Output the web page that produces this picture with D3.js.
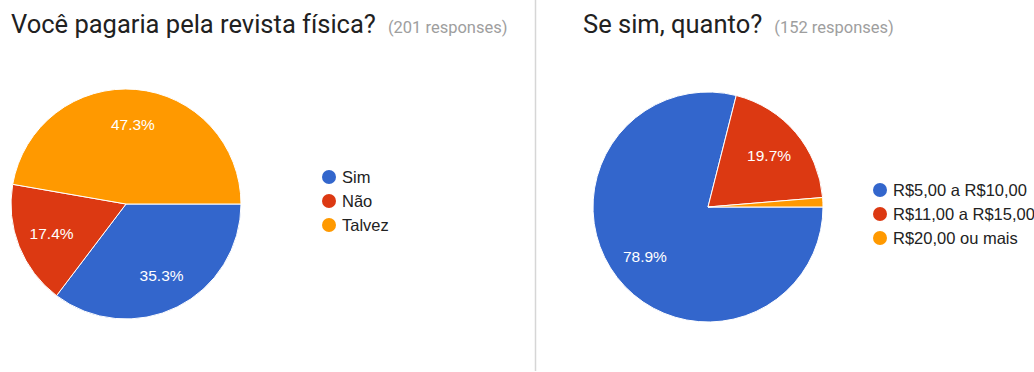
<!DOCTYPE html>
<meta charset="utf-8">
<title>Forms pies</title>
<script src="https://d3js.org/d3.v7.min.js"></script>
<style>
  body { margin: 0; background: #fff; }
</style>
<body>
</body>
<script>
  const width = 1034, height = 372;

  // data
  const labels1 = ["Sim", "Não", "Talvez"];
  const counts1 = [71, 35, 95];          // 201 responses
  const labels2 = ["R$5,00 a R$10,00", "R$11,00 a R$15,00", "R$20,00 ou mais"];
  const counts2 = [120, 30, 2];          // 152 responses
  const titles = ["Você pagaria pela revista física?", "Se sim, quanto?"];
  const totals = [201, 152];

  const colors = ["#3366cc", "#dc3912", "#ff9900"];

  const svg = d3.select("body").append("svg")
      .attr("width", width).attr("height", height);

  // divider between the two cards
  svg.append("line")
      .attr("x1", 535.5).attr("x2", 535.5)
      .attr("y1", 0).attr("y2", 371)
      .attr("stroke", "#d6d6d6").attr("stroke-width", 1.5);

  const panels = [
    { labels: labels1, counts: counts1, title: titles[0], total: totals[0],
      tx: 11, cx: 126, cy: 204, lx: 329, ly: 177 },
    { labels: labels2, counts: counts2, title: titles[1], total: totals[1],
      tx: 583, cx: 708, cy: 207, lx: 880, ly: 190 }
  ];

  const r = 115;
  const pie = d3.pie().sort(null)
      .startAngle(Math.PI / 2).endAngle(Math.PI / 2 + 2 * Math.PI);
  const arc = d3.arc().innerRadius(0).outerRadius(r);
  const labelArc = d3.arc().innerRadius(80).outerRadius(80);

  panels.forEach(p => {
    // title
    const t = svg.append("text")
        .attr("x", p.tx).attr("y", 33)
        .style("font-family", "Roboto, sans-serif")
        .style("font-size", "25.5px")
        .style("fill", "#212121")
        .text(p.title);
    t.append("tspan")
        .attr("dx", 12)
        .style("font-size", "16.5px")
        .style("fill", "#9e9e9e")
        .text(`(${p.total} responses)`);

    const total = d3.sum(p.counts);
    const g = svg.append("g").attr("transform", `translate(${p.cx},${p.cy})`);
    const arcs = pie(p.counts);

    g.selectAll("path")
      .data(arcs)
      .join("path")
        .attr("d", arc)
        .attr("fill", (d, i) => colors[i])
        .attr("stroke", "#fff")
        .attr("stroke-width", 1);

    g.selectAll("text")
      .data(arcs.filter(d => d.value / total > 0.05))
      .join("text")
        .attr("transform", d => `translate(${labelArc.centroid(d)})`)
        .attr("text-anchor", "middle")
        .attr("dy", "0.35em")
        .style("font-family", "Arial, 'Liberation Sans', sans-serif")
        .style("font-size", "15.5px")
        .style("fill", "#fff")
        .text(d => (d.value / total * 100).toFixed(1) + "%");

    // legend
    const leg = svg.append("g")
      .selectAll("g")
      .data(p.labels)
      .join("g")
        .attr("transform", (d, i) => `translate(${p.lx},${p.ly + i * 24})`);
    leg.append("circle")
        .attr("r", 7)
        .attr("fill", (d, i) => colors[i]);
    leg.append("text")
        .attr("x", 13).attr("dy", "0.35em")
        .style("font-family", "Arial, 'Liberation Sans', sans-serif")
        .style("font-size", "16.5px")
        .style("fill", "#222")
        .text(d => d);
  });
</script>
